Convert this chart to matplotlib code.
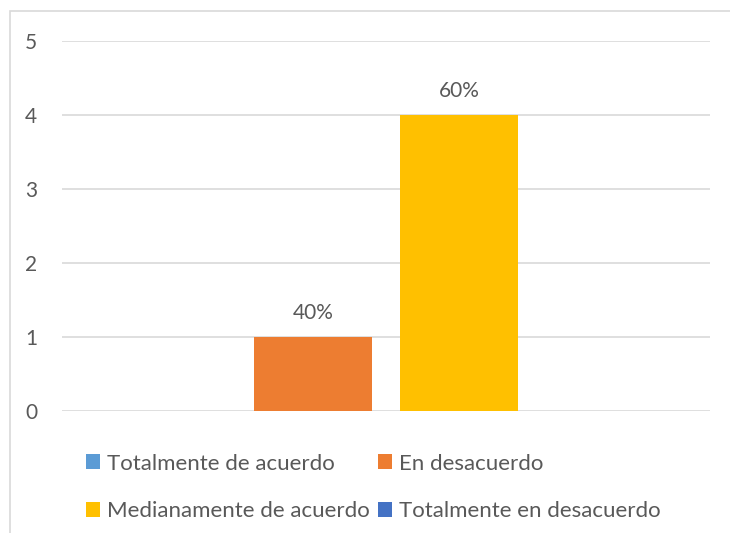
import matplotlib
matplotlib.use('Agg')
import matplotlib.pyplot as plt
from matplotlib.patches import Rectangle

# data
series = ['Totalmente de acuerdo', 'En desacuerdo',
          'Medianamente de acuerdo', 'Totalmente en desacuerdo']
values = [0, 1, 4, 0]
pct_labels = ['', '40%', '60%', '']
colors = ['#5B9BD5', '#ED7D31', '#FFC000', '#4472C4']
yticks = [0, 1, 2, 3, 4, 5]

plt.rcParams['font.family'] = ['Lato', 'DejaVu Sans']
txt = '#595959'

fig = plt.figure(figsize=(7.3, 5.33), dpi=100)
ax = fig.add_axes([62 / 730, 122 / 533, 648 / 730, 370 / 533])

# chart frame (cropped on right and bottom like the reference)
fig.patches.append(Rectangle((10 / 730, -0.05), 1.0, (533 - 11) / 533 + 0.05,
                             transform=fig.transFigure, fill=False,
                             edgecolor='#D9D9D9', linewidth=1.2))

width = 118 / 648
step = 146 / 648
n = len(values)
bars = []
for i, (name, v, c) in enumerate(zip(series, values, colors)):
    x = (i - (n - 1) / 2) * step
    b = ax.bar(x, v, width=width, color=c, label=name, zorder=3)
    bars.append(b)
    if pct_labels[i]:
        ax.annotate(pct_labels[i], (x, v), xytext=(0, 10), textcoords='offset points',
                    ha='center', va='bottom', fontsize=15, color=txt)

ax.set_xlim(-0.5, 0.5)
ax.set_ylim(0, 5)
ax.set_yticks(yticks)
ax.set_xticks([])
ax.grid(axis='y', color='#D9D9D9', linewidth=1.2, zorder=0)
for s in ax.spines.values():
    s.set_visible(False)
ax.tick_params(axis='y', length=0, pad=18, labelsize=15, labelcolor=txt)

# legend, row-major order like the original
order = [0, 2, 1, 3]
leg = ax.legend([bars[i] for i in order], [series[i] for i in order],
                ncol=2, loc='upper left', bbox_to_anchor=(24 / 648, -0.115),
                frameon=False, fontsize=16, labelcolor=txt,
                handlelength=0.65, handleheight=0.65, handletextpad=0.3,
                columnspacing=0.35, labelspacing=1.25, borderaxespad=0, borderpad=0)

fig.savefig('out.png', dpi=100, facecolor='white')
